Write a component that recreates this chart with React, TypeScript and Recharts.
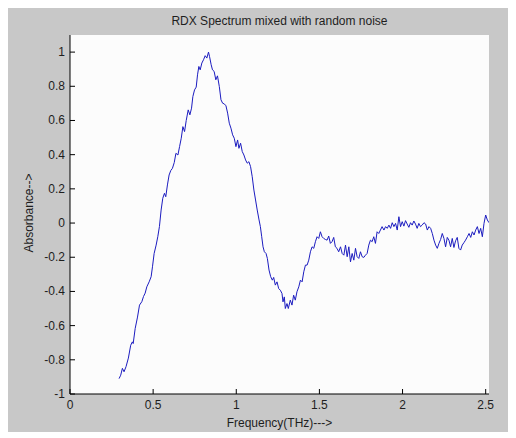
import { LineChart, Line, XAxis, YAxis, CartesianGrid } from "recharts";

// Frequency (THz) and absorbance
const frequency = [
  0.295, 0.305, 0.315, 0.325, 0.337, 0.351, 0.365, 0.375, 0.38, 0.392, 0.406, 0.418, 0.432, 0.442,
  0.452, 0.462, 0.476, 0.488, 0.496, 0.506, 0.518, 0.528, 0.538, 0.548, 0.558, 0.568, 0.576, 0.586,
  0.596, 0.606, 0.616, 0.627, 0.637, 0.649, 0.659, 0.669, 0.679, 0.689, 0.699, 0.711, 0.721, 0.731,
  0.739, 0.749, 0.759, 0.767, 0.775, 0.783, 0.793, 0.803, 0.813, 0.823, 0.833, 0.839, 0.849, 0.857,
  0.867, 0.877, 0.887, 0.898, 0.908, 0.918, 0.928, 0.938, 0.948, 0.958, 0.968, 0.978, 0.988, 0.998,
  1.008, 1.016, 1.026, 1.036, 1.046, 1.056, 1.066, 1.076, 1.086, 1.096, 1.106, 1.116, 1.126, 1.137,
  1.145, 1.153, 1.161, 1.169, 1.179, 1.187, 1.197, 1.207, 1.217, 1.225, 1.235, 1.245, 1.255, 1.265,
  1.275, 1.281, 1.289, 1.295, 1.305, 1.313, 1.325, 1.335, 1.345, 1.355, 1.365, 1.376, 1.386, 1.396,
  1.406, 1.416, 1.426, 1.436, 1.446, 1.456, 1.466, 1.476, 1.486, 1.496, 1.506, 1.516, 1.526, 1.536,
  1.546, 1.556, 1.566, 1.576, 1.586, 1.596, 1.606, 1.616, 1.627, 1.637, 1.647, 1.657, 1.667, 1.677,
  1.687, 1.697, 1.707, 1.717, 1.727, 1.737, 1.747, 1.757, 1.767, 1.777, 1.787, 1.797, 1.807, 1.817,
  1.827, 1.837, 1.847, 1.857, 1.867, 1.877, 1.888, 1.898, 1.908, 1.918, 1.928, 1.938, 1.948, 1.958,
  1.968, 1.978, 1.988, 1.998, 2.008, 2.018, 2.028, 2.038, 2.048, 2.058, 2.068, 2.078, 2.088, 2.098,
  2.108, 2.118, 2.129, 2.139, 2.149, 2.159, 2.169, 2.179, 2.189, 2.199, 2.209, 2.219, 2.229, 2.239,
  2.249, 2.259, 2.269, 2.279, 2.289, 2.299, 2.309, 2.319, 2.329, 2.339, 2.349, 2.359, 2.369, 2.379,
  2.39, 2.4, 2.41, 2.42, 2.43, 2.44, 2.45, 2.46, 2.47, 2.48, 2.49, 2.5, 2.51, 2.52,
];

const absorbance = [
  -0.91, -0.89, -0.85, -0.87, -0.84, -0.79, -0.715, -0.695, -0.705, -0.617, -0.55, -0.48, -0.46, -0.43,
  -0.41, -0.373, -0.344, -0.314, -0.256, -0.178, -0.129, -0.08, -0.02, 0.076, 0.145, 0.174, 0.154, 0.223,
  0.281, 0.307, 0.32, 0.354, 0.408, 0.398, 0.447, 0.496, 0.564, 0.535, 0.6, 0.662, 0.633, 0.672,
  0.74, 0.779, 0.795, 0.867, 0.916, 0.896, 0.936, 0.955, 0.979, 0.965, 1.0, 0.975, 0.926, 0.896,
  0.887, 0.838, 0.861, 0.799, 0.721, 0.701, 0.697, 0.686, 0.643, 0.584, 0.555, 0.516, 0.496, 0.447,
  0.486, 0.437, 0.467, 0.418, 0.398, 0.369, 0.35, 0.359, 0.33, 0.271, 0.193, 0.135, 0.076, 0.018,
  -0.021, -0.08, -0.139, -0.168, -0.178, -0.207, -0.275, -0.314, -0.334, -0.318, -0.363, -0.344, -0.383, -0.393,
  -0.412, -0.461, -0.432, -0.5, -0.471, -0.5, -0.451, -0.48, -0.422, -0.451, -0.402, -0.373, -0.334, -0.344,
  -0.285, -0.246, -0.246, -0.217, -0.168, -0.139, -0.148, -0.109, -0.08, -0.09, -0.051, -0.08, -0.09, -0.096,
  -0.1, -0.076, -0.119, -0.109, -0.084, -0.139, -0.148, -0.168, -0.139, -0.178, -0.188, -0.129, -0.197, -0.139,
  -0.227, -0.178, -0.217, -0.148, -0.197, -0.207, -0.168, -0.197, -0.201, -0.188, -0.178, -0.129, -0.1, -0.109,
  -0.08, -0.119, -0.051, -0.061, -0.041, -0.021, -0.041, -0.021, -0.031, -0.012, -0.031, 0.002, -0.021, -0.002,
  -0.041, 0.037, -0.021, 0.008, -0.018, 0.014, -0.006, -0.025, 0.002, -0.012, 0.012, -0.006, -0.031, -0.002,
  -0.021, -0.012, 0.002, -0.006, -0.041, -0.021, -0.031, -0.061, -0.1, -0.129, -0.148, -0.119, -0.096, -0.061,
  -0.09, -0.139, -0.084, -0.1, -0.139, -0.09, -0.143, -0.104, -0.084, -0.148, -0.158, -0.129, -0.115, -0.1,
  -0.08, -0.061, -0.084, -0.051, -0.07, -0.041, -0.021, -0.061, -0.031, -0.08, -0.002, 0.047, 0.018, 0.002,
];

const xTicks = [0, 0.5, 1, 1.5, 2, 2.5];
const yTicks = [-1, -0.8, -0.6, -0.4, -0.2, 0, 0.2, 0.4, 0.6, 0.8, 1];

const data = frequency.map((f, i) => ({ f, a: absorbance[i] }));

const FONT = '"Liberation Sans", Arial, Helvetica, sans-serif';
const INK = "#1e1e1e";
const TICK_LEN = 5;

// Ticks point inward (MATLAB style); labels sit outside the box
const BottomTick = ({ x, y, payload }: any) => (
  <g>
    <line x1={x} y1={y} x2={x} y2={y - TICK_LEN} stroke="#000" />
    <text x={x} y={y + 15} textAnchor="middle" fontSize={12} fontFamily={FONT} fill={INK}>
      {String(payload.value)}
    </text>
  </g>
);

const LeftTick = ({ x, y, payload }: any) => (
  <g>
    <line x1={x} y1={y} x2={x + TICK_LEN} y2={y} stroke="#000" />
    <text x={x - 5} y={y + 4} textAnchor="end" fontSize={12} fontFamily={FONT} fill={INK}>
      {String(payload.value)}
    </text>
  </g>
);

const TopTick = ({ x, y }: any) => (
  <line x1={x} y1={y} x2={x} y2={y + TICK_LEN} stroke="#000" />
);

const RightTick = ({ x, y }: any) => (
  <line x1={x} y1={y} x2={x - TICK_LEN} y2={y} stroke="#000" />
);

const textStyle = {
  position: "absolute" as const,
  fontFamily: FONT,
  fontSize: 12,
  lineHeight: "14px",
  color: INK,
  textAlign: "center" as const,
  whiteSpace: "nowrap" as const,
};

export default function App() {
  return (
    <div
      style={{
        position: "relative",
        width: 509,
        height: 425,
        marginLeft: -1,
        marginTop: -1,
        background: "#c8c8c8",
      }}
    >
      <LineChart
        width={509}
        height={425}
        data={data}
        margin={{ top: 28, right: 27, bottom: 0, left: 0 }}
      >
        <CartesianGrid fill="#fcfcfc" stroke="none" />
        <XAxis
          dataKey="f"
          type="number"
          domain={[0, 2.52]}
          ticks={xTicks}
          allowDataOverflow
          height={38}
          tickSize={0}
          tickMargin={0}
          axisLine={{ stroke: "#000" }}
          tick={<BottomTick />}
        />
        <XAxis
          xAxisId="top"
          orientation="top"
          dataKey="f"
          type="number"
          domain={[0, 2.52]}
          ticks={xTicks}
          allowDataOverflow
          height={0}
          tickSize={0}
          tickMargin={0}
          axisLine={{ stroke: "#000" }}
          tick={<TopTick />}
        />
        <YAxis
          type="number"
          domain={[-1, 1.1]}
          ticks={yTicks}
          allowDataOverflow
          width={63}
          tickSize={0}
          tickMargin={0}
          axisLine={{ stroke: "#000" }}
          tick={<LeftTick />}
        />
        <YAxis
          yAxisId="right"
          orientation="right"
          type="number"
          domain={[-1, 1.1]}
          ticks={yTicks}
          allowDataOverflow
          width={0}
          tickSize={0}
          tickMargin={0}
          axisLine={{ stroke: "#000" }}
          tick={<RightTick />}
        />
        <Line
          type="linear"
          dataKey="a"
          stroke="#1c1cc0"
          strokeWidth={1}
          dot={false}
          isAnimationActive={false}
        />
      </LineChart>

      <div style={{ ...textStyle, left: 63, width: 419, top: 7 }}>
        RDX Spectrum mixed with random noise
      </div>
      <div style={{ ...textStyle, left: 63, width: 419, top: 409 }}>
        Frequency(THz)---&gt;
      </div>
      <div
        style={{
          ...textStyle,
          left: 22 - 100,
          width: 200,
          top: 199,
          height: 14,
          transform: "rotate(-90deg)",
        }}
      >
        Absorbance--&gt;
      </div>
    </div>
  );
}
